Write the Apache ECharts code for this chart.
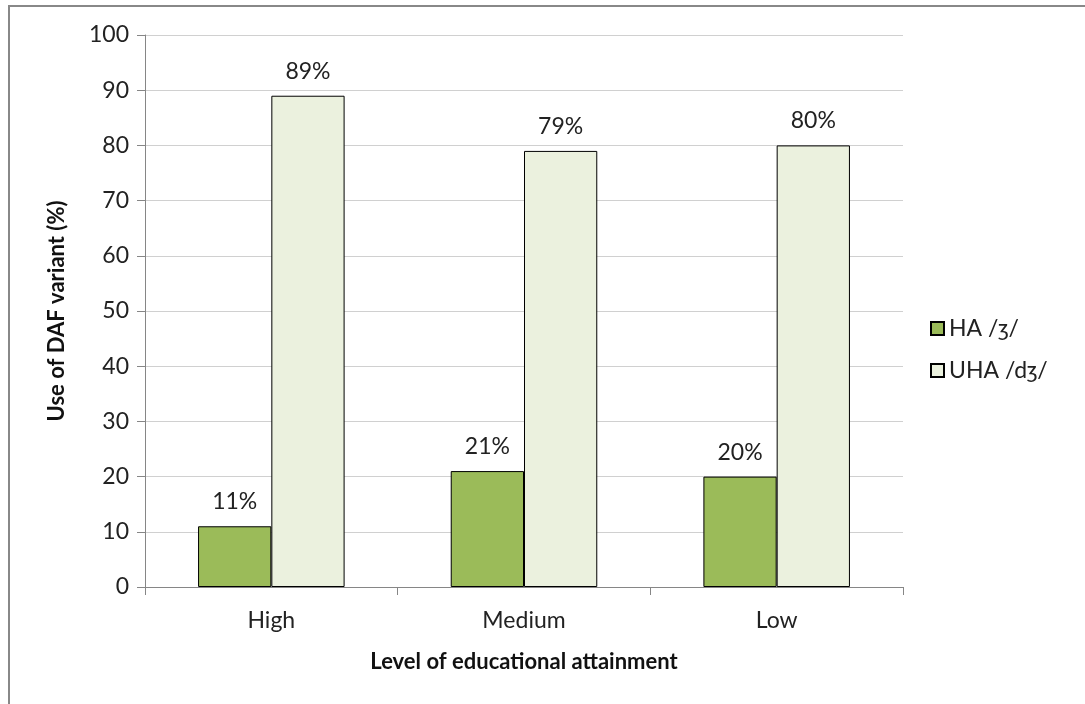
<!DOCTYPE html>
<html>
<head>
<meta charset="utf-8">
<script src="https://cdn.jsdelivr.net/npm/echarts@6/dist/echarts.min.js"></script>
<style>
  html, body { margin: 0; padding: 0; background: #fff; }
  #chart { width: 1085px; height: 704px; }
</style>
</head>
<body>
<div id="chart"></div>
<script>
// 数据
const categories = ['High', 'Medium', 'Low'];
const haValues = [11, 21, 20];
const uhaValues = [89, 79, 80];
const seriesNames = ['HA /ʒ/', 'UHA /dʒ/'];

const font = 'Lato, "Open Sans", sans-serif';
const chart = echarts.init(document.getElementById('chart'));

const option = {
  backgroundColor: '#fff',
  textStyle: { fontFamily: font },
  graphic: [{
    type: 'rect',
    shape: { x: 9, y: 6, width: 1090, height: 720 },
    style: { fill: 'none', stroke: '#888', lineWidth: 2 },
    silent: true,
  }],
  grid: { left: 145, right: 182, top: 35, bottom: 117 },
  legend: {
    orient: 'vertical',
    left: 925,
    top: 312,
    itemGap: 19,
    itemWidth: 13,
    itemHeight: 13,
    icon: 'rect',
    data: seriesNames,
    textStyle: { fontFamily: font, fontSize: 23, color: '#222', padding: [0, 0, 0, 0] },
  },
  xAxis: {
    type: 'category',
    data: categories,
    name: 'Level of educational attainment',
    nameLocation: 'middle',
    nameGap: 64,
    nameTextStyle: { fontFamily: font, fontSize: 22, fontWeight: 'bold', color: '#111' },
    axisLine: { lineStyle: { color: '#868686', width: 1 } },
    axisTick: { show: true, length: 8, lineStyle: { color: '#868686' } },
    axisLabel: { fontSize: 23, color: '#222', margin: 22, fontFamily: font },
  },
  yAxis: {
    type: 'value',
    min: 0,
    max: 100,
    interval: 10,
    name: 'Use of DAF variant (%)',
    nameLocation: 'middle',
    nameGap: 77,
    nameTextStyle: { fontFamily: font, fontSize: 22, fontWeight: 'bold', color: '#111' },
    axisLine: { show: true, lineStyle: { color: '#868686', width: 1 } },
    axisTick: { show: true, inside: false, length: 8, lineStyle: { color: '#868686' } },
    splitLine: { lineStyle: { color: '#D0D0D0', width: 1 } },
    axisLabel: { fontSize: 23, color: '#222', margin: 16, fontFamily: font },
  },
  series: [
    {
      name: seriesNames[0],
      type: 'bar',
      data: haValues,
      barGap: '0%',
      barCategoryGap: '42%',
      itemStyle: { color: '#9BBB59', borderColor: '#000', borderWidth: 1 },
      label: { show: true, position: 'top', distance: 13, formatter: '{c}%', fontSize: 23, color: '#222', fontFamily: font },
    },
    {
      name: seriesNames[1],
      type: 'bar',
      data: uhaValues,
      itemStyle: { color: '#EBF1DE', borderColor: '#000', borderWidth: 1 },
      label: { show: true, position: 'top', distance: 13, formatter: '{c}%', fontSize: 23, color: '#222', fontFamily: font },
    },
  ],
};

chart.setOption(option);
</script>
</body>
</html>
